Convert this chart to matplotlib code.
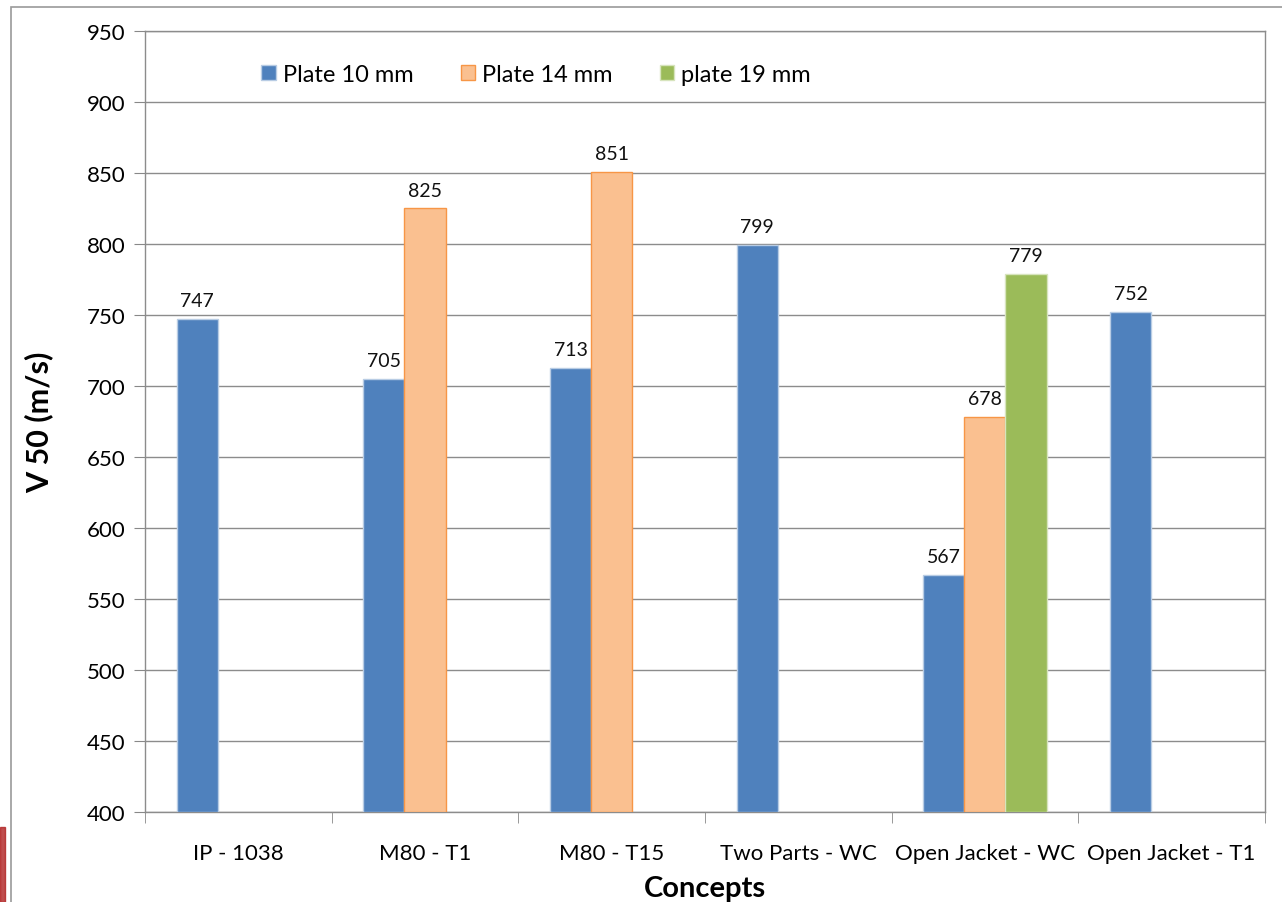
import numpy as np
import matplotlib.pyplot as plt
from matplotlib.patches import Rectangle

plt.switch_backend('agg')
plt.rcParams['font.family'] = ['Lato', 'DejaVu Sans']

# Concepts tested and the V50 values per plate thickness (None = not tested)
concepts = ['IP - 1038', 'M80 - T1', 'M80 - T15', 'Two Parts - WC',
            'Open Jacket - WC', 'Open Jacket - T1']
plate10 = [747, 705, 713, 799, 567, 752]
plate14 = [None, 825, 851, None, 678, None]
plate19 = [None, None, None, None, 779, None]
series_names = ['Plate 10 mm', 'Plate 14 mm', 'plate 19 mm']

fig = plt.figure(figsize=(12.82, 9.03), dpi=100)
ax = fig.add_axes([0.1131, 0.0997, 0.8736, 0.8649])

# outer chart border
fig.patches.append(Rectangle((11 / 1282, -0.05), 1.1, 1 - 8 / 903 + 0.05,
                             transform=fig.transFigure, fill=False,
                             edgecolor='#9a9a9a', linewidth=1.2))
# bit of the slide background at the lower left corner
fig.patches.append(Rectangle((0, 0.0), 5 / 1282, 75 / 903,
                             transform=fig.transFigure, color='#b02020',
                             alpha=0.8))

ymin = 400
x = np.arange(len(concepts))
w = 0.22
styles = [
    dict(color='#4F81BD', edgecolor='#b8cce4'),
    dict(color='#FAC090', edgecolor='#F79646'),
    dict(color='#9BBB59', edgecolor='#d7e4bd'),
]
for k, (vals, name, st) in enumerate(zip([plate10, plate14, plate19],
                                          series_names, styles)):
    xs = [xi + (k - 1) * w for xi, v in zip(x, vals) if v is not None]
    vs = [v for v in vals if v is not None]
    ax.bar(xs, [v - ymin for v in vs], bottom=ymin, width=w,
           linewidth=1.0, label=name, zorder=3, **st)
    for xi, v in zip(xs, vs):
        ax.text(xi, v + 7, str(v), ha='center', va='bottom',
                fontsize=14, color='#111111')

ax.set_ylim(ymin, 950)
ax.set_yticks(np.arange(400, 951, 50))
ax.set_xlim(-0.5, len(concepts) - 0.5)
ax.set_xticks(x)
ax.set_xticklabels(concepts, fontsize=16)
ax.set_xticks(np.arange(-0.5, len(concepts)), minor=True)
ax.tick_params(axis='x', which='major', length=0, pad=22)
ax.tick_params(axis='x', which='minor', length=8, color='#888888',
               direction='out')
ax.tick_params(axis='y', labelsize=16, length=8, color='#888888', pad=6)
ax.grid(axis='y', color='#8c8c8c', linewidth=1.0, zorder=0)
for s in ax.spines.values():
    s.set_color('#8c8c8c')
    s.set_linewidth(1.0)

ax.set_ylabel('V 50 (m/s)', fontsize=22, fontweight='bold', labelpad=24)
ax.set_xlabel('Concepts', fontsize=21, fontweight='bold', labelpad=9)

ax.legend(loc='upper left', bbox_to_anchor=(0.085, 0.985), ncol=3,
          frameon=False, fontsize=17, handlelength=0.6, handleheight=0.6,
          handletextpad=0.3, columnspacing=2.0)

plt.savefig('out.png', dpi=100)
